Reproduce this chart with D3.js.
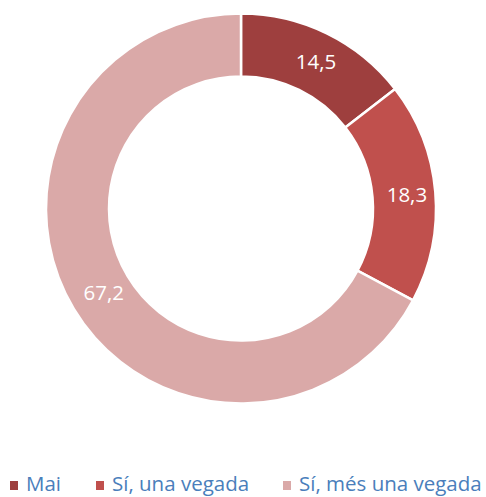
<!DOCTYPE html>
<html>
<head>
<meta charset="utf-8">
<script src="https://cdn.jsdelivr.net/npm/d3@7"></script>
<style>
  html, body { margin: 0; padding: 0; background: #fff; }
  svg { display: block; }
</style>
</head>
<body>
<svg id="chart" width="486" height="497"></svg>
<script>
// Responses and their shares (%)
const categories = ["Mai", "Sí, una vegada", "Sí, més una vegada"];
const values = [14.5, 18.3, 67.2];
const colors = ["#9E3F3E", "#C0504D", "#DAA9A8"];

const width = 486, height = 497;
const cx = 241, cy = 208.5;
const outerR = 195, innerR = 132;
const font = "'Open Sans', sans-serif";

const svg = d3.select("#chart");

const pie = d3.pie().sort(null).value(d => d.value);
const arc = d3.arc().innerRadius(innerR).outerRadius(outerR);
const midR = innerR + (outerR - innerR) / 2;
const labelArc = d3.arc().innerRadius(midR).outerRadius(midR);

const data = categories.map((c, i) => ({ name: c, value: values[i], color: colors[i] }));
const arcs = pie(data);

const g = svg.append("g").attr("transform", `translate(${cx},${cy})`);

g.selectAll("path")
  .data(arcs)
  .join("path")
  .attr("d", arc)
  .attr("fill", d => d.data.color)
  .attr("stroke", "#fff")
  .attr("stroke-width", 2.5);

g.selectAll("text")
  .data(arcs)
  .join("text")
  .attr("transform", d => {
    const [x, y] = labelArc.centroid(d);
    return `translate(${x + 3},${y})`;
  })
  .attr("text-anchor", "middle")
  .attr("dy", "0.35em")
  .attr("fill", "#fff")
  .style("font-family", font)
  .style("font-size", "20.5px")
  .text(d => d3.format(".1f")(d.data.value).replace(".", ","));

// Legend along the bottom
const legendX = [10, 96, 283];
const legend = svg.append("g");
const items = legend.selectAll("g")
  .data(data)
  .join("g")
  .attr("transform", (d, i) => `translate(${legendX[i]},0)`);

items.append("rect")
  .attr("x", 0)
  .attr("y", 481)
  .attr("width", 8)
  .attr("height", 9)
  .attr("fill", d => d.color);

items.append("text")
  .attr("x", 16)
  .attr("y", 491)
  .attr("fill", "#4A7EBB")
  .style("font-family", font)
  .style("font-size", "20.5px")
  .text(d => d.name);
</script>
</body>
</html>
